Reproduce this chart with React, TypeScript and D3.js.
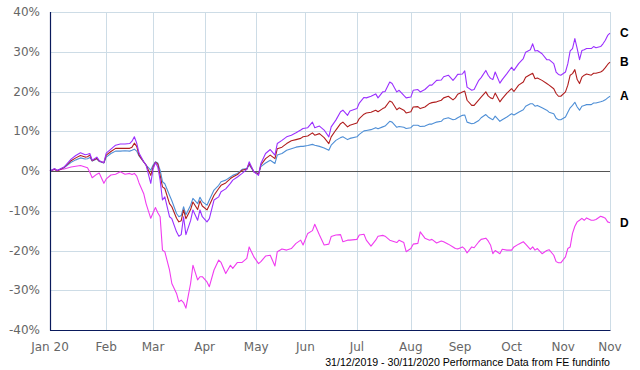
import React from "react";
import * as d3 from "d3";

const dates = [
  "2019-12-31","2020-01-02","2020-01-03","2020-01-08","2020-01-13","2020-01-15","2020-01-17","2020-01-21","2020-01-22","2020-01-23",
  "2020-01-24","2020-01-28","2020-01-29","2020-01-31","2020-02-03","2020-02-05","2020-02-07","2020-02-11","2020-02-13","2020-02-17",
  "2020-02-18","2020-02-19","2020-02-20","2020-02-21","2020-02-25","2020-02-26","2020-02-28","2020-03-02","2020-03-03","2020-03-04",
  "2020-03-05","2020-03-06","2020-03-09","2020-03-11","2020-03-12","2020-03-16","2020-03-17","2020-03-18","2020-03-19","2020-03-20",
  "2020-03-24","2020-03-25","2020-03-27","2020-03-30","2020-03-31","2020-04-02","2020-04-03","2020-04-07","2020-04-09","2020-04-10",
  "2020-04-14","2020-04-16","2020-04-17","2020-04-21","2020-04-23","2020-04-27","2020-04-28","2020-04-30","2020-05-04","2020-05-05",
  "2020-05-07","2020-05-11","2020-05-13","2020-05-14","2020-05-18","2020-05-20","2020-05-22","2020-05-26","2020-05-28","2020-05-29",
  "2020-06-02","2020-06-04","2020-06-05","2020-06-09","2020-06-11","2020-06-15","2020-06-16","2020-06-18","2020-06-22","2020-06-23",
  "2020-06-25","2020-06-26","2020-07-01","2020-07-02","2020-07-06","2020-07-07","2020-07-09","2020-07-13","2020-07-14","2020-07-16",
  "2020-07-17","2020-07-21","2020-07-22","2020-07-24","2020-07-27","2020-07-29","2020-07-30","2020-08-03","2020-08-04","2020-08-06",
  "2020-08-07","2020-08-11","2020-08-13","2020-08-14","2020-08-18","2020-08-20","2020-08-21","2020-08-25","2020-08-27","2020-08-28",
  "2020-08-31","2020-09-02","2020-09-03","2020-09-04","2020-09-08","2020-09-09","2020-09-11","2020-09-14","2020-09-16","2020-09-17",
  "2020-09-18","2020-09-21","2020-09-22","2020-09-24","2020-09-25","2020-09-29","2020-10-01","2020-10-02","2020-10-06","2020-10-08",
  "2020-10-09","2020-10-13","2020-10-14","2020-10-15","2020-10-16","2020-10-20","2020-10-22","2020-10-23","2020-10-27","2020-10-28",
  "2020-10-29","2020-10-30","2020-11-03","2020-11-04","2020-11-05","2020-11-06","2020-11-09","2020-11-10","2020-11-11","2020-11-12",
  "2020-11-13","2020-11-16","2020-11-18","2020-11-19","2020-11-20","2020-11-24","2020-11-25","2020-11-26","2020-11-27","2020-11-30",
];

const seriesA = [
  0,0.5,0.1,0.8,2.2,2.8,3.3,3.0,3.1,3.4,
  2.5,3.0,2.4,2.0,3.5,4.4,5.0,5.0,5.1,5.0,
  5.2,5.5,5.0,3.8,2.3,1.5,0.2,1.5,2.3,2.0,
  0.2,-2.7,-3.2,-6.1,-7.5,-10.7,-11.5,-11.2,-9.0,-11.0,
  -8.6,-6.9,-8.2,-6.6,-7.7,-8.6,-7.3,-4.8,-3.6,-2.7,
  -2.3,-1.5,-1.1,-0.6,0.4,0.6,1.5,-0.2,-0.6,1.1,
  2.0,2.7,1.9,4.0,4.4,5.2,5.6,6.0,6.2,6.2,
  6.4,6.7,6.5,6.2,5.8,5.2,6.5,7.7,8.4,8.6,
  7.9,8.2,8.6,9.2,10.1,10.2,10.4,10.9,10.6,11.1,
  11.3,12.5,12.3,11.0,11.2,11.0,10.7,10.9,11.5,11.5,
  11.2,11.3,11.8,11.8,12.3,12.5,13.1,13.4,12.9,13.0,
  13.4,14.0,14.1,12.3,11.9,12.0,12.7,13.4,14.2,13.6,
  13.2,12.9,13.8,12.5,12.9,13.6,14.4,14.1,14.8,15.4,
  16.3,16.9,16.9,16.3,16.5,15.9,15.3,14.8,14.4,13.3,
  12.9,12.9,13.6,14.8,15.9,16.5,17.3,16.1,15.3,16.3,
  16.5,16.7,16.7,17.1,17.1,17.4,17.6,17.9,18.4,18.8,
];

const seriesB = [
  0,0.5,0,0.9,2.6,3.3,3.9,3.5,3.6,4.0,
  2.6,3.2,2.5,2.1,4.0,4.9,5.7,5.7,5.7,5.7,
  6.0,7.0,6.2,4.0,2.3,1.5,-1.1,1.0,2.2,1.8,
  -1.1,-4.0,-4.4,-8.2,-9.0,-11.9,-12.8,-12.5,-9.8,-12.0,
  -9.7,-7.8,-9.7,-7.5,-8.8,-9.8,-8.6,-6.1,-4.4,-3.6,
  -3.0,-1.9,-1.5,-0.9,0.2,0.5,1.9,-0.2,-0.8,1.5,
  3.1,4.0,3.1,5.6,6.0,6.9,7.6,7.9,8.2,8.6,
  8.8,9.6,9.0,9.4,8.4,6.9,8.6,10.3,11.9,12.3,
  11.1,11.5,12.1,13.2,14.3,14.6,14.8,15.3,14.9,15.7,
  16.0,17.6,17.3,15.4,15.9,15.3,14.6,14.9,16.1,16.2,
  15.7,16.1,17.0,17.2,17.4,17.8,18.4,18.8,17.9,18.4,
  19.3,19.9,20.1,17.8,16.5,16.5,17.9,18.6,19.9,18.9,
  18.4,18.2,19.6,17.4,18.2,19.6,20.7,20.0,21.6,22.4,
  23.6,24.3,24.6,23.2,23.4,22.8,22.0,21.6,20.7,19.5,
  18.8,18.8,19.9,21.6,24.1,24.5,25.5,23.0,22.0,23.6,
  24.1,24.4,24.1,24.6,24.6,24.9,25.3,26.0,26.8,27.4,
];

const seriesC = [
  0,0.6,0.1,1.0,3.0,3.9,4.6,4.1,4.2,4.4,
  2.7,3.5,2.6,2.1,4.5,5.5,6.5,6.8,6.8,6.9,
  7.5,8.6,7.0,4.5,2.3,1.5,-3.1,0.5,2.1,1.0,
  -2.3,-7.3,-6.5,-11.5,-12.0,-15.3,-16.4,-16.0,-11.5,-16.0,
  -12.5,-9.8,-12.4,-9.8,-11.5,-12.8,-12.0,-7.3,-6.5,-5.2,
  -4.5,-3.1,-2.3,-1.5,-0.6,0.4,2.3,-0.2,-1.1,1.9,
  4.4,5.4,4.0,6.9,7.7,8.6,9.0,9.6,10.3,10.7,
  10.9,12.3,10.9,11.3,10.3,8.6,11.1,12.8,14.9,15.3,
  14.0,15.1,15.7,17.1,18.5,18.4,18.8,19.4,18.4,19.9,
  20.0,22.4,22.0,19.9,20.3,19.0,18.4,18.6,20.3,20.5,
  19.9,20.5,21.6,21.6,22.8,22.9,23.7,24.1,22.8,23.5,
  24.3,24.4,25.2,21.1,20.3,20.5,22.8,23.5,25.3,24.1,
  23.3,23.0,24.9,22.1,23.0,24.5,26.1,25.3,27.0,28.3,
  29.9,30.5,32.0,30.2,30.3,29.5,28.0,28.0,27.0,24.9,
  24.3,24.1,24.9,27.0,30.2,30.8,33.3,30.8,28.0,30.3,
  30.5,30.8,30.8,31.3,31.0,31.3,32.0,32.9,34.1,34.7,
];

const seriesD = [
  0,0.4,0.2,0.5,1.0,1.2,1.4,1.0,0.8,-0.3,
  -1.7,-0.8,-0.5,-3.1,-2.0,-1.0,-0.8,-0.2,-0.8,-0.6,
  -0.9,-0.6,-1.3,-3.0,-5.7,-8.2,-11.9,-10.5,-9.2,-10.5,
  -11.5,-19.9,-20.3,-24.9,-28.3,-30.8,-32.9,-32.5,-33.1,-34.5,
  -28.3,-23.7,-27.4,-26.6,-26.6,-27.9,-29.1,-24.9,-22.4,-23.0,
  -25.8,-23.7,-24.5,-23.0,-23.0,-22.0,-19.1,-21.6,-23.3,-22.8,
  -21.4,-21.2,-23.9,-20.3,-19.6,-19.9,-19.5,-18.2,-17.4,-18.6,
  -15.7,-15.0,-13.4,-16.1,-18.6,-18.4,-16.5,-16.1,-16.0,-17.8,
  -17.4,-17.4,-17.2,-16.1,-15.9,-17.4,-18.9,-17.4,-16.4,-16.2,
  -16.4,-17.4,-17.6,-18.0,-17.4,-18.0,-20.3,-19.5,-18.4,-18.2,
  -15.3,-16.9,-17.4,-17.2,-18.1,-17.6,-17.8,-18.4,-19.1,-19.5,
  -19.6,-19.1,-19.6,-20.6,-19.1,-19.3,-17.8,-17.2,-16.9,-17.6,
  -18.6,-20.8,-20.0,-20.8,-19.7,-19.9,-19.9,-19.1,-18.4,-17.8,
  -18.4,-19.7,-19.1,-19.9,-19.5,-20.8,-20.0,-19.8,-21.2,-22.8,
  -23.1,-23.1,-21.6,-19.5,-19.1,-15.7,-13.9,-12.8,-12.4,-11.9,
  -12.4,-11.8,-12.4,-12.4,-12.2,-11.4,-11.6,-11.9,-12.8,-13.0,
];

const seriesNames = ["A", "B", "C", "D"];
const seriesColors = ["#4f8fd6", "#b01e1e", "#9b30ff", "#f03cf0"];

const xTickDates = ["2019-12-31","2020-02-03","2020-03-02","2020-04-01","2020-05-01","2020-06-01","2020-07-01","2020-08-03","2020-09-01","2020-10-01","2020-11-02","2020-11-30"];
const xTickLabels = ["Jan 20","Feb","Mar","Apr","May","Jun","Jul","Aug","Sep","Oct","Nov","Nov"];
const yTicks = [40, 30, 20, 10, 0, -10, -20, -30, -40];
const footer = "31/12/2019 - 30/11/2020 Performance Data from FE fundinfo";

const parse = d3.utcParse("%Y-%m-%d");
const start = parse(dates[0]) as Date;
// trading-day index (weekdays since start)
function tradingIndex(s: string): number {
  const d = parse(s) as Date;
  return d3.utcDay.range(d3.utcDay.offset(start, 1), d3.utcDay.offset(d, 1)).filter((t) => t.getUTCDay() !== 0 && t.getUTCDay() !== 6).length;
}

export default function App() {
  const W = 640, H = 370;
  const left = 50, right = 610, top = 12, bottom = 330;
  const endIdx = tradingIndex(dates[dates.length - 1]);
  const x = d3.scaleLinear().domain([0, endIdx]).range([left, right]);
  const y = d3.scaleLinear().domain([-40, 40]).range([bottom, top]);
  const idx = dates.map(tradingIndex);
  const all = [seriesA, seriesB, seriesC, seriesD];
  const line = (vals: number[]) =>
    d3.line<number>().x((_, i) => x(idx[i])).y((v) => y(v))(vals) || "";
  const drawOrder = [3, 0, 1, 2];
  const gridColor = "#cddce6";
  const axisColor = "#0a1a5c";
  return (
    <svg width={W} height={H} style={{ position: "absolute", left: 0, top: 0, background: "#fff" }}>
      <rect x={0} y={0} width={W} height={H} fill="#fff" />
      {yTicks.map((t) => (
        <line key={"gy" + t} x1={left} x2={right} y1={Math.round(y(t)) + 0.5} y2={Math.round(y(t)) + 0.5} stroke={gridColor} strokeWidth={1} />
      ))}
      {xTickDates.map((d, i) => {
        const xx = Math.round(x(tradingIndex(d))) + 0.5;
        return <line key={"gx" + i} x1={xx} x2={xx} y1={top} y2={bottom} stroke={gridColor} strokeWidth={1} />;
      })}
      <line x1={left} x2={right} y1={Math.round(y(0)) + 0.5} y2={Math.round(y(0)) + 0.5} stroke="#555" strokeWidth={1} />
      {drawOrder.map((k) => (
        <path key={seriesNames[k]} d={line(all[k])} fill="none" stroke={seriesColors[k]} strokeWidth={1.1} strokeLinejoin="round" />
      ))}
      <line x1={left + 0.5} x2={left + 0.5} y1={top} y2={bottom + 0.5} stroke={axisColor} strokeWidth={1.2} />
      <line x1={left} x2={right + 0.5} y1={bottom + 0.5} y2={bottom + 0.5} stroke={axisColor} strokeWidth={1.2} />
      {yTicks.map((t) => (
        <text key={"ty" + t} x={40} y={y(t)} dy="0.35em" textAnchor="end" fontFamily="DejaVu Sans, Verdana, sans-serif" fontSize={12} fill="#666">
          {t + "%"}
        </text>
      ))}
      {xTickDates.map((d, i) => (
        <text key={"tx" + i} x={x(tradingIndex(d))} y={351} textAnchor="middle" fontFamily="DejaVu Sans, Verdana, sans-serif" fontSize={12} fill="#666">
          {xTickLabels[i]}
        </text>
      ))}
      {all.map((vals, k) => (
        <text key={"lab" + k} x={620} y={y(vals[vals.length - 1])} dy="0.35em" fontFamily="Liberation Sans, Arial, sans-serif" fontWeight="bold" fontSize={12} fill="#000">
          {seriesNames[k]}
        </text>
      ))}
      <text x={610} y={366} textAnchor="end" fontFamily="Liberation Sans, Arial, sans-serif" fontSize={10.6} fill="#000">
        {footer}
      </text>
    </svg>
  );
}
